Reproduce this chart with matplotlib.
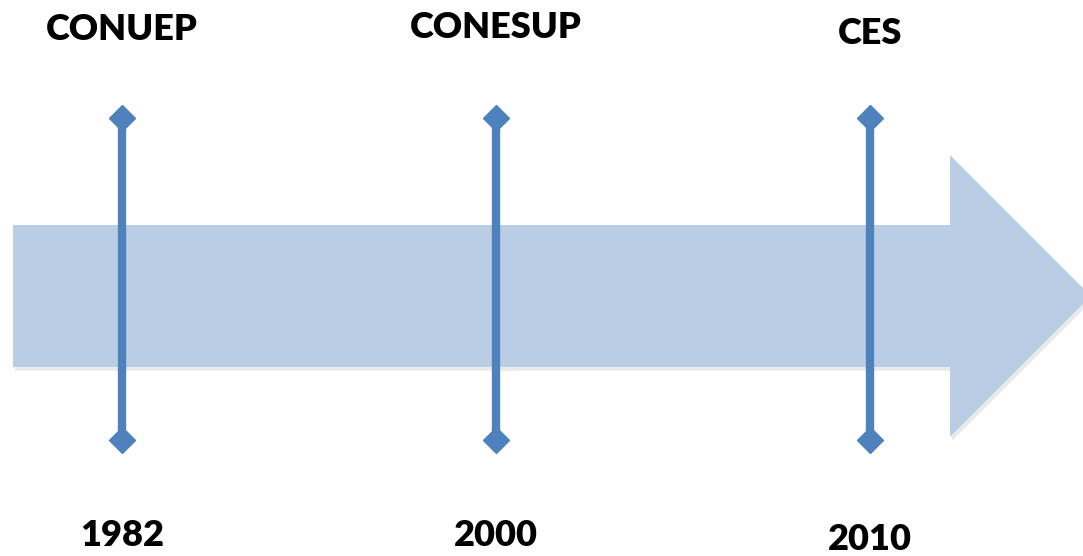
import numpy as np
import matplotlib.pyplot as plt
from matplotlib.patches import Polygon

# timeline events
bodies = ['CONUEP', 'CONESUP', 'CES']
years = ['1982', '2000', '2010']

# small per-label vertical nudges seen in the original slide (pixels)
topNudge = [0, -2, 5]
bottomNudge = [0, 0, 5]

arrowColor = '#B9CDE5'
lineColor = '#4F81BD'

fig = plt.figure(figsize=(10.83, 5.56), dpi=100)
ax = fig.add_axes([0, 0, 1, 1])
# x in event units (374 px per step, first event at 122 px), y in pixels from top
ax.set_xlim(-122 / 374.0, (1083 - 122) / 374.0)
ax.set_ylim(556, 0)
ax.axis('off')

def px(x):
    return (x - 122) / 374.0

# big background arrow with a faint shadow
arrowPts = [(px(13), 225), (px(950), 225), (px(950), 155), (px(1091), 296),
            (px(950), 437), (px(950), 367), (px(13), 367)]
shadowPts = [(x + 2 / 374.0, y + 4) for x, y in arrowPts]
ax.add_patch(Polygon(shadowPts, closed=True, color='#000000', alpha=0.08, lw=0, zorder=1))
ax.add_patch(Polygon(arrowPts, closed=True, color=arrowColor, lw=0, zorder=2))

pos = np.arange(len(bodies))
for i, x in enumerate(pos):
    ax.plot([x, x], [118, 440], color=lineColor, lw=6, solid_capstyle='butt', zorder=3)
    ax.plot([x, x], [118, 440], ls='none', marker='D', ms=13, color=lineColor, zorder=4)
    ax.text(x, 29 + topNudge[i], bodies[i], ha='center', va='center',
            fontsize=26, fontweight='heavy', family='Lato', color='black')
    ax.text(x, 535 + bottomNudge[i], years[i], ha='center', va='center',
            fontsize=26, fontweight='heavy', family='Lato', color='black')

fig.savefig('out.png', dpi=100)
